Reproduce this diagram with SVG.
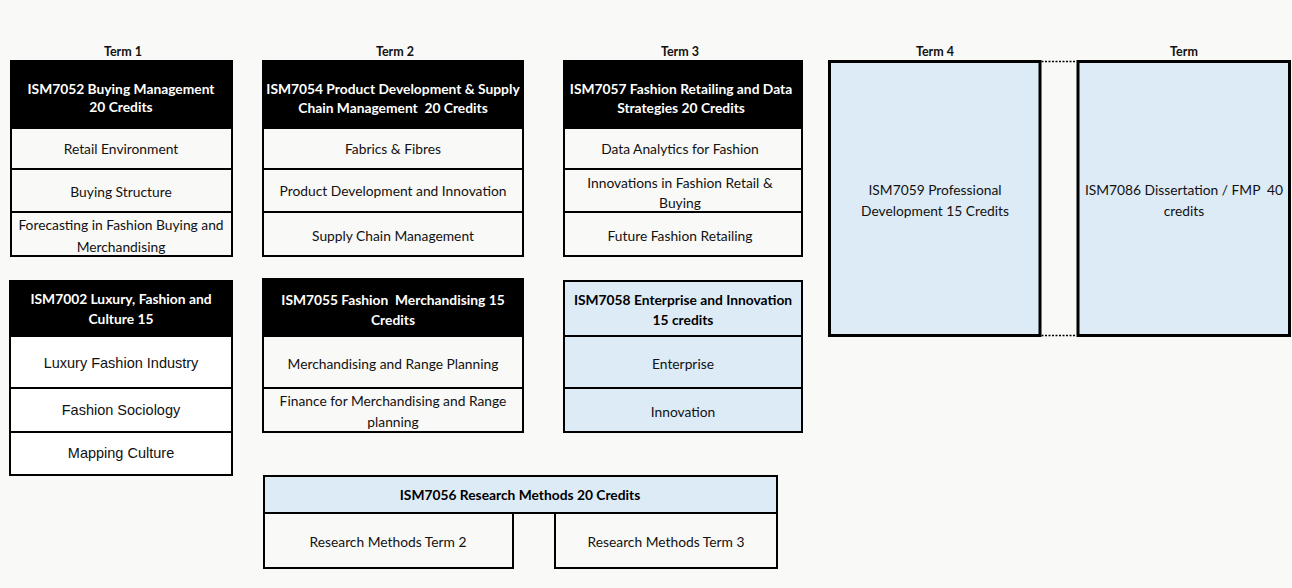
<svg xmlns="http://www.w3.org/2000/svg" width="1292" height="588" viewBox="0 0 1292 588">
<style>
.bg{fill:#f9f9f7}
.hd{fill:#000;stroke:#000;stroke-width:2}
.row{fill:#f9f9f7;stroke:#000;stroke-width:2}
.roww{fill:#fff;stroke:#000;stroke-width:2}
.blue{fill:#ddebf7;stroke:#000;stroke-width:2}
.bigblue{fill:#ddebf7;stroke:#000;stroke-width:3}
.dot{stroke:#000;stroke-width:1.5;stroke-dasharray:2 1.5;fill:none}
text{font-family:Lato,"Liberation Sans",sans-serif;font-size:13.8px;fill:#111;text-anchor:middle;dominant-baseline:central;white-space:pre}
.term{font-weight:bold;font-size:12.5px}
.h{font-weight:bold;fill:#fff}
.hb{font-weight:bold;fill:#000}
.ar{font-family:"Liberation Sans",Arial,sans-serif;font-size:14.5px}
</style>
<rect class="bg" x="0" y="0" width="1292" height="588"/>

<g id="term-labels">
<text class="term" x="123" y="51">Term 1</text>
<text class="term" x="395" y="51">Term 2</text>
<text class="term" x="680" y="51">Term 3</text>
<text class="term" x="935" y="51">Term 4</text>
<text class="term" x="1184" y="51">Term</text>
</g>

<g id="ism7052">
<rect class="hd" x="11" y="61" width="221" height="67"/>
<text class="h" x="121" y="88">ISM7052 Buying Management</text>
<text class="h" x="121" y="106">20 Credits</text>
<rect class="row" x="11" y="128" width="221" height="41"/>
<text x="121" y="148">Retail Environment</text>
<rect class="row" x="11" y="169" width="221" height="43"/>
<text x="121" y="191">Buying Structure</text>
<rect class="row" x="11" y="212" width="221" height="44"/>
<text x="121" y="224">Forecasting in Fashion Buying and</text>
<text x="121" y="246">Merchandising</text>
</g>

<g id="ism7054">
<rect class="hd" x="263" y="61" width="260" height="67"/>
<text class="h" x="393" y="88">ISM7054 Product Development &amp; Supply</text>
<text class="h" x="393" y="107" xml:space="preserve">Chain Management  20 Credits</text>
<rect class="row" x="263" y="128" width="260" height="41"/>
<text x="393" y="148">Fabrics &amp; Fibres</text>
<rect class="row" x="263" y="169" width="260" height="43"/>
<text x="393" y="190">Product Development and Innovation</text>
<rect class="row" x="263" y="212" width="260" height="44"/>
<text x="393" y="235">Supply Chain Management</text>
</g>

<g id="ism7057">
<rect class="hd" x="564" y="61" width="238" height="67"/>
<text class="h" x="681" y="88">ISM7057 Fashion Retailing and Data</text>
<text class="h" x="681" y="107">Strategies 20 Credits</text>
<rect class="row" x="564" y="128" width="238" height="41"/>
<text x="680" y="148">Data Analytics for Fashion</text>
<rect class="row" x="564" y="169" width="238" height="43"/>
<text x="680" y="182">Innovations in Fashion Retail &amp;</text>
<text x="680" y="202">Buying</text>
<rect class="row" x="564" y="212" width="238" height="44"/>
<text x="680" y="235">Future Fashion Retailing</text>
</g>

<g id="ism7059">
<rect class="bigblue" x="829.5" y="61.5" width="210.5" height="274"/>
<text x="935" y="189">ISM7059 Professional</text>
<text x="935" y="210">Development 15 Credits</text>
</g>

<g id="ism7086">
<rect class="bigblue" x="1078" y="61.5" width="211.5" height="274"/>
<text x="1184" y="189" xml:space="preserve">ISM7086 Dissertation / FMP  40</text>
<text x="1184" y="210">credits</text>
</g>

<g id="ism7002">
<rect class="hd" x="10" y="281" width="222" height="55"/>
<text class="h" x="121" y="298">ISM7002 Luxury, Fashion and</text>
<text class="h" x="121" y="318">Culture 15</text>
<rect class="roww" x="10" y="336" width="222" height="52"/>
<text class="ar" x="121" y="363">Luxury Fashion Industry</text>
<rect class="roww" x="10" y="388" width="222" height="44"/>
<text class="ar" x="121" y="410">Fashion Sociology</text>
<rect class="roww" x="10" y="432" width="222" height="43"/>
<text class="ar" x="121" y="453">Mapping Culture</text>
</g>

<g id="ism7055">
<rect class="hd" x="263" y="279" width="260" height="57"/>
<text class="h" x="393" y="299" xml:space="preserve">ISM7055 Fashion  Merchandising 15</text>
<text class="h" x="393" y="319">Credits</text>
<rect class="row" x="263" y="336" width="260" height="52"/>
<text x="393" y="363">Merchandising and Range Planning</text>
<rect class="row" x="263" y="388" width="260" height="44"/>
<text x="393" y="400">Finance for Merchandising and Range</text>
<text x="393" y="421">planning</text>
</g>

<g id="ism7058">
<rect class="blue" x="564" y="281" width="238" height="55"/>
<text class="hb" x="683" y="299">ISM7058 Enterprise and Innovation</text>
<text class="hb" x="683" y="319">15 credits</text>
<rect class="blue" x="564" y="336" width="238" height="52"/>
<text x="683" y="363">Enterprise</text>
<rect class="blue" x="564" y="388" width="238" height="44"/>
<text x="683" y="411">Innovation</text>
</g>

<g id="ism7056">
<rect class="blue" x="264" y="476" width="513" height="37"/>
<text class="hb" x="520" y="494">ISM7056 Research Methods 20 Credits</text>
<rect class="row" x="264" y="513" width="249" height="55"/>
<text x="388" y="541">Research Methods Term 2</text>
<rect class="row" x="555" y="513" width="222" height="55"/>
<text x="666" y="541">Research Methods Term 3</text>
</g>

<g id="connectors">
<line class="dot" x1="1041.5" y1="61.5" x2="1076.5" y2="61.5"/>
<line class="dot" x1="1041.5" y1="335.5" x2="1076.5" y2="335.5"/>
</g>
</svg>
